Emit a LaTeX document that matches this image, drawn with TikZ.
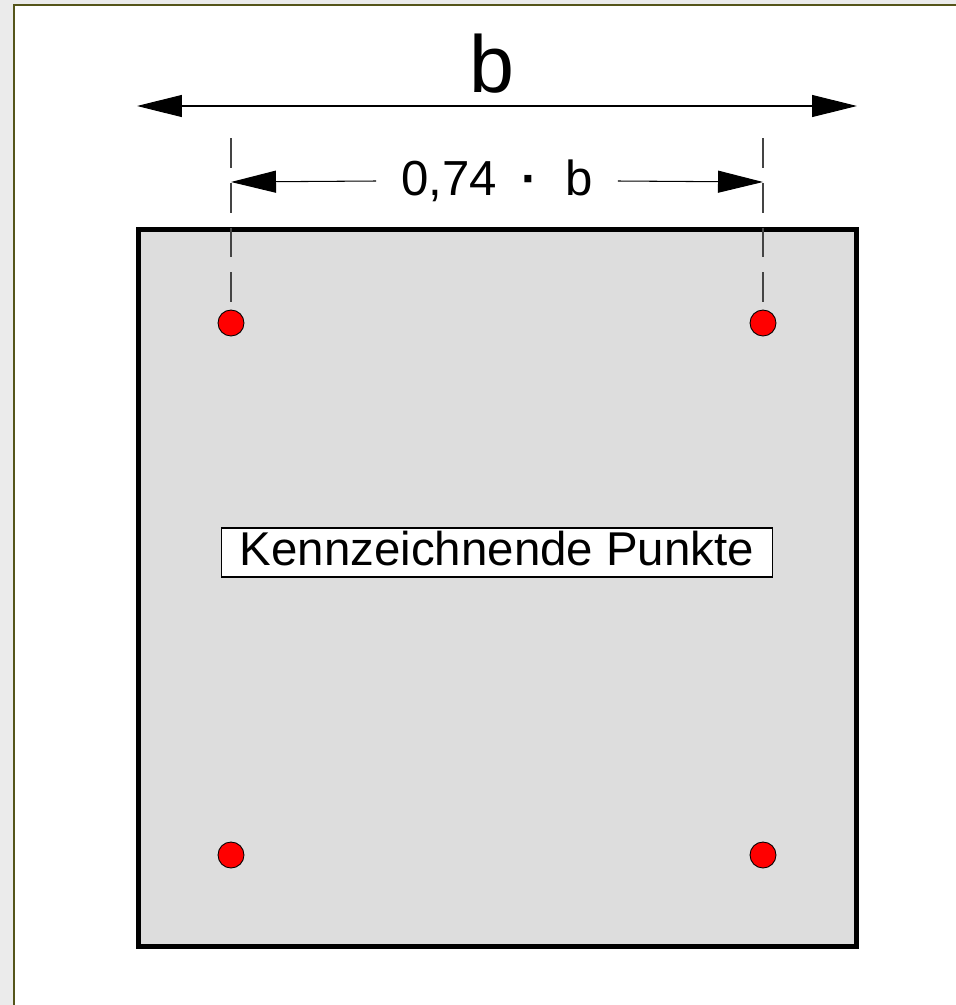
\documentclass[tikz,border=0pt]{standalone}
\usepackage{fontspec}
\setmainfont{Liberation Sans}
\usetikzlibrary{arrows.meta}

\definecolor{bggray}{HTML}{EBEBEB}
\definecolor{frameolive}{HTML}{55551A}
\definecolor{platefill}{HTML}{DDDDDD}
\definecolor{extgray}{HTML}{444444}

\tikzset{
  bigtip/.tip={Triangle[length=9mm,width=4.4mm]},
  dimarrow/.style={line width=0.6pt},
  extline/.style={extgray, line width=1pt, dash pattern=on 17pt off 8.5pt},
  plate/.style={draw, line width=2.8pt, fill=platefill, inner sep=0pt},
  pointdot/.style={circle, draw, line width=0.5pt, fill=red, minimum size=5.2mm, inner sep=0pt},
  namebox/.style={draw, line width=0.6pt, fill=white, inner sep=0pt},
}

\begin{document}
\begin{tikzpicture}[x=0.02cm,y=-0.02cm]
  \useasboundingbox (0,0) rectangle (956,1005);
  \fill[bggray] (0,0) rectangle (956,1005);
  \fill[white] (14,5) rectangle (960,1010);
  \draw[frameolive, line width=0.9pt] (14,1010) -- (14,5) -- (960,5);

  % plate with the four points
  \node[plate, minimum width=14.36cm, minimum height=14.34cm] (plate) at (497.5,588) {};
  \node[pointdot] (ptl) at (231,323) {};
  \node[pointdot] (ptr) at (763,323) {};
  \node[pointdot] (pbl) at (231,855) {};
  \node[pointdot] (pbr) at (763,855) {};

  \node[namebox, font=\fontsize{27}{32}\selectfont, minimum width=11.04cm, minimum height=0.98cm,
        text depth=0.15cm] (name) at (497,552.5) {Kennzeichnende Punkte};

  % extension lines
  \coordinate (extl) at (231,138);
  \coordinate (extr) at (763,138);
  \coordinate (extlend) at (231,303);
  \coordinate (extrend) at (763,303);
  \draw[extline] (extl) -- (extlend);
  \draw[extline] (extr) -- (extrend);

  % overall width
  \coordinate (bl) at (137,106);
  \coordinate (br) at (857,106);
  \draw[dimarrow, bigtip-bigtip] (bl) -- (br);
  \node[anchor=base, font=\fontsize{46}{52}\selectfont] (blabel) at (492,92) {b};

  % distance of the points
  \coordinate (dl) at (231,182);
  \coordinate (dr) at (763,182);
  \node[font=\fontsize{28}{32}\selectfont, inner xsep=0.5cm, inner ysep=0pt] (dlabel) at (497,181)
    {0,74\hspace{0.5em}\textbf{·}\hspace{0.55em}b};
  \draw[dimarrow, bigtip-] (dl) -- (dlabel.west);
  \draw[dimarrow, -bigtip] (dlabel.east) -- (dr);
\end{tikzpicture}
\end{document}
